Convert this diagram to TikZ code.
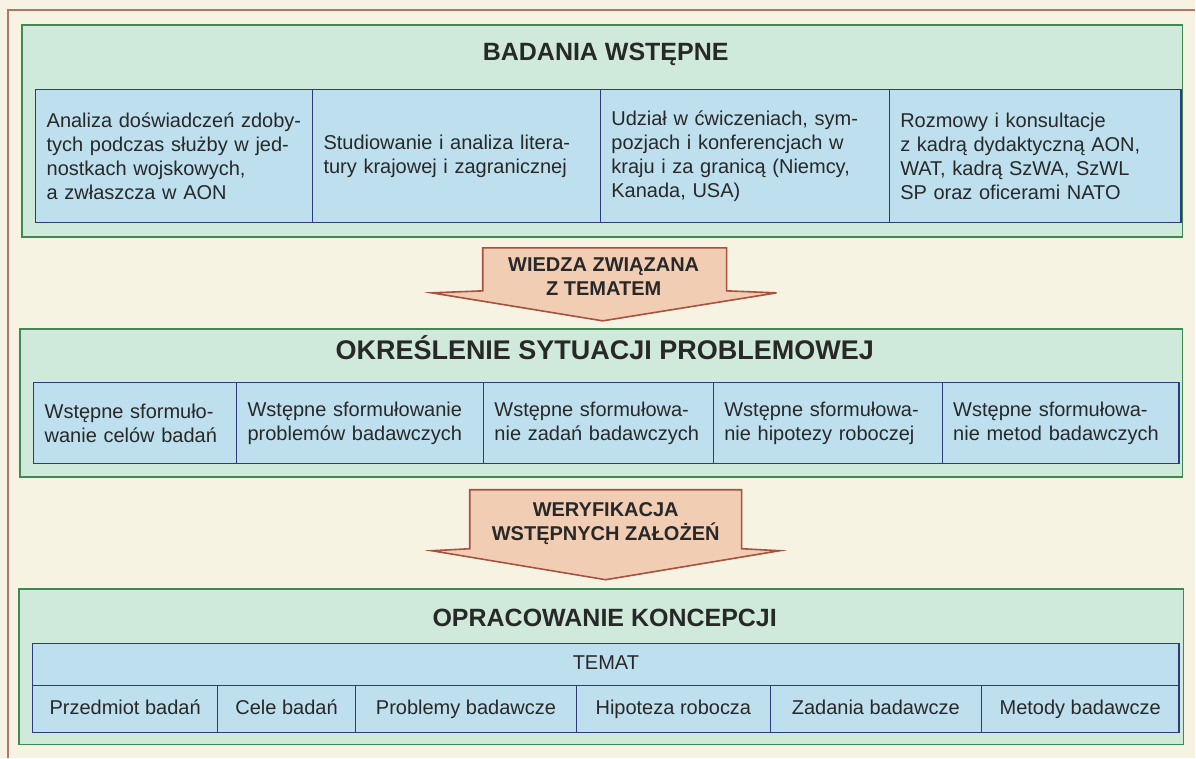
\documentclass[tikz,border=0pt]{standalone}
\usepackage{fontspec}
\setmainfont{Liberation Sans}

\definecolor{Cream}{HTML}{F6F3E2}
\definecolor{FrameLine}{HTML}{B57564}
\definecolor{PanelFill}{HTML}{CFEADA}
\definecolor{PanelLine}{HTML}{3F8A52}
\definecolor{CellFill}{HTML}{BEE0EE}
\definecolor{CellLine}{HTML}{2C3C7E}
\definecolor{ArrowFill}{HTML}{F1CDB3}
\definecolor{ArrowLine}{HTML}{A9503F}
\definecolor{TextDark}{HTML}{282828}

\tikzset{
    panel/.style={draw=PanelLine, fill=PanelFill, line width=1.6pt},
    cell/.style={draw=CellLine, fill=CellFill, line width=1.4pt, anchor=north west,
        inner xsep=11pt, inner ysep=0pt, align=left, text=TextDark,
        font=\fontsize{20}{24}\selectfont},
    cellc/.style={cell, align=center, inner xsep=0pt, text height=14.5pt, text depth=4pt},
    heading/.style={anchor=base, text=TextDark, font=\bfseries\fontsize{#1}{#1}\selectfont},
    bigarrow/.style={draw=ArrowLine, fill=ArrowFill, line width=1.6pt, line join=miter},
    arrowtext/.style={align=center, text=TextDark, font=\bfseries\fontsize{20}{24}\selectfont},
}

\begin{document}
\begin{tikzpicture}[x=1pt, y=-1pt]

    \fill[Cream] (0,0) rectangle (1196,758);
    \draw[FrameLine, line width=1.2pt] (1196,10) -- (8,10) -- (8,758);

    \draw[panel] (22,25) rectangle (1183,237);
    \node[heading=25] (badania) at (606,61) {BADANIA WSTĘPNE};
    \node[cell, minimum width=277pt, minimum height=133pt, text width=255pt] (analiza) at (35,89)
        {Analiza doświadczeń zdoby-\\tych podczas służby w jed-\\nostkach wojskowych,\\a zwłaszcza w AON};
    \node[cell, minimum width=288pt, minimum height=133pt, text width=266pt] (studia) at (312,89)
        {Studiowanie i analiza litera-\\tury krajowej i zagranicznej\\[6pt]};
    \node[cell, minimum width=289pt, minimum height=133pt, text width=267pt] (udzial) at (600,89)
        {Udział w ćwiczeniach, sym-\\pozjach i konferencjach w\\kraju i za granicą (Niemcy,\\Kanada, USA)};
    \node[cell, minimum width=292pt, minimum height=133pt, text width=270pt] (rozmowy) at (889,89)
        {Rozmowy i konsultacje\\z kadrą dydaktyczną AON,\\WAT, kadrą SzWA, SzWL\\SP oraz oficerami NATO};

    \draw[bigarrow] (483,248) -- (727,248) -- (727,291) -- (777,293) -- (603,321)
        -- (432,293) -- (483,291) -- cycle;
    \node[arrowtext] (wiedza) at (604,277) {WIEDZA ZWIĄZANA\\Z TEMATEM};

    \draw[panel] (20,329) rectangle (1183,477);
    \node[heading=27] (sytuacja) at (605,360) {OKREŚLENIE SYTUACJI PROBLEMOWEJ};
    \node[cell, minimum width=203pt, minimum height=81pt, text width=181pt] (cele) at (33,382)
        {Wstępne sformuło-\\wanie celów badań};
    \node[cell, minimum width=247pt, minimum height=81pt, text width=225pt] (problemy) at (236,382)
        {Wstępne sformułowanie\\problemów badawczych};
    \node[cell, minimum width=230pt, minimum height=81pt, text width=208pt] (zadania) at (483,382)
        {Wstępne sformułowa-\\nie zadań badawczych};
    \node[cell, minimum width=229pt, minimum height=81pt, text width=207pt] (hipoteza) at (713,382)
        {Wstępne sformułowa-\\nie hipotezy roboczej};
    \node[cell, minimum width=237pt, minimum height=81pt, text width=215pt] (metody) at (942,382)
        {Wstępne sformułowa-\\nie metod badawczych};

    \draw[bigarrow] (470,490) -- (742,490) -- (742,549) -- (780,551) -- (606,580)
        -- (432,551) -- (470,549) -- cycle;
    \node[arrowtext] (weryfikacja) at (606,524) {WERYFIKACJA\\WSTĘPNYCH ZAŁOŻEŃ};

    \draw[panel] (19,589) rectangle (1184,745);
    \node[heading=25] (koncepcja) at (605,627) {OPRACOWANIE KONCEPCJI};
    \node[cellc, minimum width=1147pt, minimum height=42pt] (temat) at (32,643) {TEMAT};
    \node[cellc, minimum width=185pt, minimum height=47pt] (przedmiot) at (32,685) {Przedmiot badań};
    \node[cellc, minimum width=138pt, minimum height=47pt] (celebadan) at (217,685) {Cele badań};
    \node[cellc, minimum width=221pt, minimum height=47pt] (problemybad) at (355,685) {Problemy badawcze};
    \node[cellc, minimum width=194pt, minimum height=47pt] (hipotezarob) at (576,685) {Hipoteza robocza};
    \node[cellc, minimum width=211pt, minimum height=47pt] (zadaniabad) at (770,685) {Zadania badawcze};
    \node[cellc, minimum width=198pt, minimum height=47pt] (metodybad) at (981,685) {Metody badawcze};

\end{tikzpicture}
\end{document}
